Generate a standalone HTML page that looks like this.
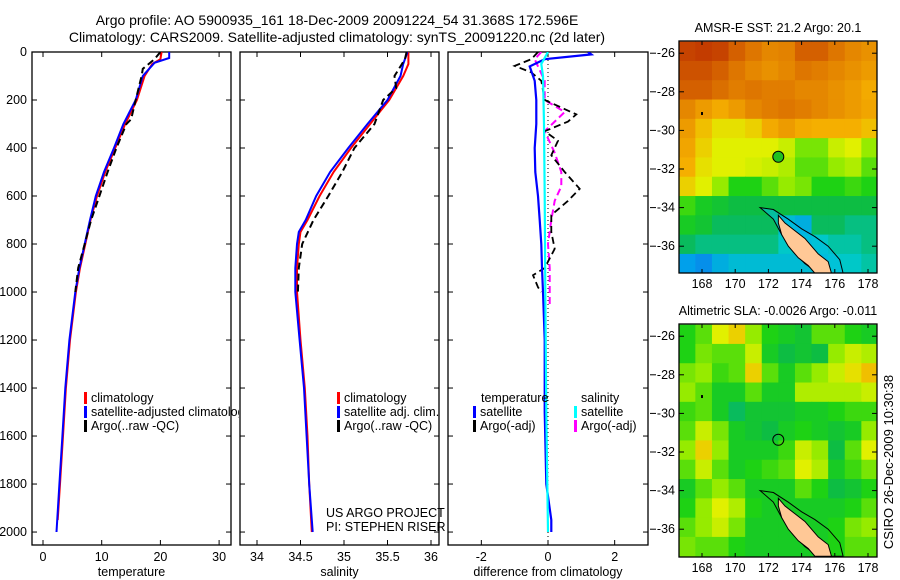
<!DOCTYPE html>
<html><head><meta charset="utf-8"><style>
body{margin:0;background:#fff}
svg{display:block;font-family:"Liberation Sans",sans-serif}
text{font-size:12.5px;fill:#000}
</style></head><body>
<svg id="c" width="900" height="580" viewBox="0 0 900 580" xmlns="http://www.w3.org/2000/svg">
<defs>
<clipPath id="cp1"><rect x="32" y="52" width="199" height="493"/></clipPath>
<clipPath id="cp1t"><rect x="0" y="0" width="239" height="580"/></clipPath>
<clipPath id="cp2"><rect x="240" y="52" width="199" height="493"/></clipPath>
<clipPath id="cp3"><rect x="448" y="52" width="200" height="493"/></clipPath>
<clipPath id="cpm1"><rect x="679" y="41" width="198" height="232"/></clipPath>
<clipPath id="cpm2"><rect x="679" y="324" width="198" height="233"/></clipPath>
</defs>
<text x="337" y="25" text-anchor="middle" style="font-size:14px">Argo profile: AO 5900935_161 18-Dec-2009 20091224_54 31.368S 172.596E</text>
<text x="337" y="42" text-anchor="middle" style="font-size:14px">Climatology: CARS2009. Satellite-adjusted climatology: synTS_20091220.nc (2d later)</text>
<g id="g"></g>
<text transform="translate(893,462) rotate(-90)" text-anchor="middle" style="font-size:13px">CSIRO 26-Dec-2009 10:30:38</text>
</svg>
<script>
// ---- profile data (depth in m) ----
const tClimDepth=[0,30,50,100,200,300,400,500,600,700,800,900,1000,1200,1400,1600,1800,1950];
const tClim=[20.2,20.0,18.6,17.3,16.0,14.0,12.3,10.6,9.2,8.1,7.2,6.3,5.6,4.6,3.9,3.4,2.9,2.5];
const tSatDepth=[0,25,45,100,200,300,400,500,600,700,800,900,1000,1200,1400,1600,1800,2000];
const tSat=[21.5,21.5,19.0,17.0,15.8,13.7,12.1,10.4,9.0,8.0,7.1,6.2,5.5,4.5,3.8,3.3,2.8,2.3];
const tArgoDepth=[0,30,70,100,200,280,300,400,500,600,700,800,900,1000];
const tArgo=[20.0,19.0,17.0,16.8,15.8,15.0,14.2,12.5,11.0,9.6,8.2,7.1,6.0,5.5];
const sClimDepth=[0,50,100,200,300,400,500,600,700,750,800,900,1000,1200,1400,1600,1800,2000];
const sClim=[35.74,35.74,35.68,35.52,35.3,35.08,34.88,34.72,34.58,34.5,34.48,34.46,34.46,34.5,34.55,34.58,34.6,34.63];
const sSatDepth=[0,50,100,200,300,400,500,600,700,750,800,900,1000,1200,1400,1600,1800,2000];
const sSat=[35.73,35.68,35.65,35.5,35.27,35.05,34.84,34.68,34.56,34.48,34.46,34.44,34.44,34.49,34.54,34.57,34.6,34.64];
const sArgoDepth=[0,30,100,150,200,300,400,500,600,700,800,900,1000];
const sArgo=[35.72,35.7,35.58,35.6,35.45,35.35,35.12,34.98,34.82,34.65,34.52,34.48,34.47];
const dTSatDepth=[0,10,30,60,120,200,300,400,500,600,700,800,900,1000,1200,1500,1800,1950,2000];
const dTSat=[1.2,1.3,-0.1,-0.55,-0.4,-0.35,-0.35,-0.4,-0.38,-0.3,-0.25,-0.2,-0.18,-0.15,-0.1,-0.1,-0.05,0.1,0.1];
const dSSatDepth=[0,50,100,300,600,1000,1500,2000];
const dSSat=[0.0,-0.2,-0.15,-0.12,-0.1,-0.08,-0.05,0.0];
const dTArgoDepth=[0,30,58,85,120,200,260,290,330,370,430,500,570,620,680,750,820,900,930,980,1000];
const dTArgo=[-0.3,-0.5,-1.0,-0.5,-0.2,-0.1,0.85,0.6,-0.1,0.3,0.1,0.5,0.95,0.6,0.1,0.1,0.2,-0.1,-0.45,-0.3,-0.2];
const dSArgoDepth=[0,30,60,120,200,250,290,330,420,500,560,620,700,800,900,1000,1050];
const dSArgo=[-0.2,-0.4,-0.3,-0.1,-0.1,0.5,0.2,-0.1,0.2,0.4,0.4,0.2,0.1,0.0,0.05,0.05,0.05];
const depthTicks=[0,200,400,600,800,1000,1200,1400,1600,1800,2000];
const tTicks=[0,10,20,30];
const sTicks=[34,34.5,35,35.5,36];
const dTicks=[-2,0,2];
// ---- map data (1-degree cells, rows north->south, cols west->east; colormap index 0..1) ----
const sstGrid=[
[0.92,0.93,0.92,0.88,0.85,0.82,0.83,0.88,0.88,0.85,0.82,0.80],
[0.90,0.90,0.88,0.85,0.82,0.80,0.82,0.85,0.84,0.82,0.80,0.78],
[0.88,0.88,0.86,0.84,0.85,0.84,0.84,0.82,0.82,0.80,0.78,0.75],
[0.82,0.78,0.75,0.78,0.82,0.84,0.85,0.84,0.82,0.80,0.78,0.76],
[0.78,0.72,0.68,0.68,0.70,0.75,0.78,0.75,0.74,0.74,0.74,0.72],
[0.76,0.70,0.66,0.66,0.66,0.66,0.64,0.58,0.58,0.64,0.66,0.60],
[0.74,0.68,0.66,0.66,0.65,0.64,0.62,0.56,0.56,0.60,0.62,0.56],
[0.70,0.66,0.60,0.52,0.52,0.56,0.60,0.58,0.52,0.52,0.54,0.52],
[0.54,0.50,0.48,0.46,0.46,0.46,0.46,0.46,0.46,0.46,0.46,0.46],
[0.50,0.48,0.44,0.44,0.44,0.44,0.36,0.34,0.44,0.44,0.42,0.42],
[0.44,0.42,0.42,0.42,0.42,0.42,0.38,0.36,0.38,0.40,0.40,0.42],
[0.32,0.30,0.34,0.36,0.36,0.36,0.36,0.36,0.36,0.38,0.38,0.40]];
const slaGrid=[
[0.52,0.56,0.66,0.70,0.60,0.52,0.50,0.48,0.56,0.56,0.52,0.50],
[0.52,0.58,0.56,0.56,0.64,0.50,0.46,0.48,0.46,0.60,0.64,0.62],
[0.58,0.60,0.54,0.56,0.70,0.56,0.50,0.56,0.60,0.64,0.68,0.72],
[0.60,0.56,0.50,0.50,0.56,0.50,0.50,0.62,0.62,0.62,0.62,0.64],
[0.54,0.56,0.50,0.44,0.48,0.48,0.48,0.50,0.50,0.52,0.54,0.54],
[0.56,0.64,0.58,0.50,0.48,0.46,0.50,0.52,0.50,0.48,0.50,0.60],
[0.60,0.70,0.60,0.50,0.50,0.50,0.54,0.64,0.60,0.46,0.56,0.66],
[0.56,0.64,0.56,0.50,0.52,0.54,0.56,0.66,0.62,0.50,0.54,0.58],
[0.50,0.56,0.60,0.56,0.50,0.50,0.50,0.56,0.52,0.46,0.48,0.52],
[0.52,0.60,0.66,0.62,0.52,0.50,0.50,0.50,0.50,0.50,0.52,0.56],
[0.56,0.60,0.64,0.58,0.50,0.50,0.50,0.50,0.50,0.52,0.58,0.60],
[0.58,0.56,0.56,0.52,0.50,0.50,0.50,0.50,0.50,0.52,0.56,0.56]];
const lonTicks=[168,170,172,174,176,178];
const latTicks=[-26,-28,-30,-32,-34,-36];
const landLon=[172.6,173.0,173.6,174.2,174.6,175.0,175.6,175.8,174.8,174.4,173.8,173.2,172.8,172.6];
const landLat=[-34.4,-34.8,-35.2,-35.6,-36.0,-36.4,-36.8,-37.4,-37.4,-37.0,-36.6,-36.0,-35.4,-34.8];
const shelfLon=[171.5,172.3,173.2,174.0,174.8,175.6,176.3,176.5,175.0,174.2,173.5,172.8,172.3];
const shelfLat=[-34.0,-34.1,-34.6,-35.1,-35.5,-36.0,-36.7,-37.4,-37.4,-36.9,-36.3,-35.4,-34.6];
const stationLon=172.596, stationLat=-31.368;

const NS='http://www.w3.org/2000/svg';
const G=document.getElementById('g');
function mk(tag,attrs,parent){const e=document.createElementNS(NS,tag);for(const k in attrs)e.setAttribute(k,attrs[k]);(parent||G).appendChild(e);return e;}
function lin(d0,d1,r0,r1){return v=>r0+(v-d0)*(r1-r0)/(d1-d0);}
const yD=lin(0,2054,52,545);

function panel(x0,x1,xs,ticks,label,name){
  const r=mk('rect',{x:x0,y:52,width:x1-x0,height:493,fill:'none',stroke:'#000','stroke-width':1.3});
  
  
  ticks.forEach(t=>{const x=xs(t);
    mk('line',{x1:x,x2:x,y1:545,y2:540,stroke:'#000'});mk('line',{x1:x,x2:x,y1:52,y2:57,stroke:'#000'});
    const tx=mk('text',{x:x,y:561,'text-anchor':'middle'});tx.textContent=String(t);
    
    });
  depthTicks.forEach(d=>{const y=yD(d);
    mk('line',{x1:x0,x2:x0+5,y1:y,y2:y,stroke:'#000'});mk('line',{x1:x1,x2:x1-5,y1:y,y2:y,stroke:'#000'});});
  const lb=mk('text',{x:(x0+x1)/2,y:576,'text-anchor':'middle'});lb.textContent=label;
  
  
}
function series(xs,vals,depths,color,w,dash,name,cp){
  const p=vals.map((v,i)=>xs(v).toFixed(1)+','+yD(depths[i]).toFixed(1)).join(' ');
  const a={points:p,fill:'none',stroke:color,'stroke-width':w,'clip-path':'url(#'+cp+')'};
  if(dash)a['stroke-dasharray']=dash;
  const e=mk('polyline',a);
  
  
}
function legend(x,y,color,label,name,clip){
  const b=mk('rect',{x:x,y:y-10,width:3,height:12,fill:color});
  
  
  const t=mk('text',{x:x+7,y:y});if(clip)t.setAttribute('clip-path','url(#'+clip+')');t.textContent=label;
  
  
}
depthTicks.forEach(d=>{const t=mk('text',{x:27,y:yD(d)+4,'text-anchor':'end'});t.textContent=String(d);
  
  });

const xT=lin(0,10,43,101.7);
panel(32,231,xT,tTicks,'temperature','temperature-panel');
series(xT,tClim,tClimDepth,'#ff0000',2,null,'temperature-climatology-line','cp1');
series(xT,tSat,tSatDepth,'#0000ff',2,null,'temperature-satellite-line','cp1');
series(xT,tArgo,tArgoDepth,'#000',2,'7,4','temperature-argo-line','cp1');
legend(84,402,'#ff0000','climatology','legend-climatology');
legend(84,416,'#0000ff','satellite-adjusted climatology','legend-satellite-adjusted','cp1t');
legend(84,430,'#000','Argo(..raw -QC)','legend-argo');

const xS=lin(34,35,257,344);
panel(240,439,xS,sTicks,'salinity','salinity-panel');
series(xS,sClim,sClimDepth,'#ff0000',2,null,'salinity-climatology-line','cp2');
series(xS,sSat,sSatDepth,'#0000ff',2,null,'salinity-satellite-line','cp2');
series(xS,sArgo,sArgoDepth,'#000',2,'7,4','salinity-argo-line','cp2');
legend(337,402,'#ff0000','climatology','legend-sal-climatology');
legend(337,416,'#0000ff','satellite adj. clim.','legend-sal-satellite');
legend(337,430,'#000','Argo(..raw -QC)','legend-sal-argo');
[['US ARGO PROJECT',517],['PI: STEPHEN RISER',531]].forEach(a=>{const t=mk('text',{x:326,y:a[1]});t.textContent=a[0];
  
  });

const xDf=lin(-3,3,448,648);
panel(448,648,xDf,dTicks,'difference from climatology','difference-panel');
mk('line',{x1:xDf(0),x2:xDf(0),y1:52,y2:545,stroke:'#000','stroke-dasharray':'1,3'});
series(xDf,dSArgo,dSArgoDepth,'#ff00ff',2,'7,4','diff-salinity-argo-line','cp3');
series(xDf,dTArgo,dTArgoDepth,'#000',1.8,'7,4','diff-temperature-argo-line','cp3');
series(xDf,dTSat,dTSatDepth,'#0000ff',2.2,null,'diff-temperature-satellite-line','cp3');
series(xDf,dSSat,dSSatDepth,'#00ffff',2.2,null,'diff-salinity-satellite-line','cp3');
[['temperature',481],['salinity',581]].forEach(a=>{const t=mk('text',{x:a[1],y:402});t.textContent=a[0];
  
  });
legend(473,416,'#0000ff','satellite','legend-diff-temp-satellite');
legend(473,430,'#000','Argo(-adj)','legend-diff-temp-argo');
legend(574,416,'#00ffff','satellite','legend-diff-sal-satellite');
legend(574,430,'#ff00ff','Argo(-adj)','legend-diff-sal-argo');

const stops=[[0.25,[20,100,230]],[0.32,[0,160,235]],[0.38,[0,200,200]],[0.45,[10,185,75]],[0.52,[30,210,20]],[0.6,[150,235,0]],[0.66,[225,240,0]],[0.74,[245,175,0]],[0.84,[225,125,0]],[0.93,[195,60,0]],[1,[170,30,0]]];
function cmap(v){if(v<=stops[0][0])return 'rgb('+stops[0][1]+')';
  for(let i=1;i<stops.length;i++){if(v<=stops[i][0]){const a=stops[i-1],b=stops[i],f=(v-a[0])/(b[0]-a[0]);
    return 'rgb('+a[1].map((c,k)=>Math.round(c+(b[1][k]-c)*f)).join(',')+')';}}
  return 'rgb('+stops[stops.length-1][1]+')';}
function map(y0,y1,grid,title,name,cp,filled){
  const xL=lin(168,178,702,868), yL=lin(-26,-36,y0+12.2,y0+205.2);
  const g=mk('g',{'clip-path':'url(#'+cp+')'});
  
  
  grid.forEach((row,r)=>row.forEach((v,c)=>{
    const lo=166.6+c, la=-25.4-r;
    const cell=mk('rect',{x:xL(lo),y:yL(la),width:xL(lo+1)-xL(lo)+0.6,height:yL(la-1)-yL(la)+0.6,fill:cmap(v)},g);
    
    }));
  const shelf=mk('polygon',{points:shelfLon.map((lo,i)=>xL(lo)+','+yL(shelfLat[i])).join(' '),fill:filled?'rgba(0,190,230,0.55)':'none',stroke:'#000','stroke-width':1},g);
  
  
  const land=mk('polygon',{points:landLon.map((lo,i)=>xL(lo)+','+yL(landLat[i])).join(' '),fill:'#ffc896',stroke:'#000','stroke-width':1},g);
  
  
  mk('rect',{x:xL(168)-1,y:yL(-29.1)-1,width:2,height:3,fill:'#000'},g);
  const st=mk('circle',{cx:xL(stationLon),cy:yL(stationLat),r:5.5,fill:filled?'#20c020':'none',stroke:'#000','stroke-width':1});
  
  
  const fr=mk('rect',{x:679,y:y0,width:198,height:y1-y0,fill:'none',stroke:'#000','stroke-width':1.3});
  
  
  lonTicks.forEach(l=>{const x=xL(l);mk('line',{x1:x,x2:x,y1:y0,y2:y0+4,stroke:'#000'});mk('line',{x1:x,x2:x,y1:y1,y2:y1-4,stroke:'#000'});
    const t=mk('text',{x:x,y:y1+15,'text-anchor':'middle'});t.textContent=String(l);
    
    });
  latTicks.forEach(l=>{const y=yL(l);mk('line',{x1:679,x2:684,y1:y,y2:y,stroke:'#000'});mk('line',{x1:877,x2:872,y1:y,y2:y,stroke:'#000'});
    mk('line',{x1:650,x2:656,y1:y,y2:y,stroke:'#000'});
    const t=mk('text',{x:675,y:y+4,'text-anchor':'end'});t.textContent=String(l);
    
    });
  const tt=mk('text',{x:778,y:y0-9,'text-anchor':'middle'});tt.textContent=title;
  
  
}
map(41,273,sstGrid,'AMSR-E SST: 21.2 Argo: 20.1','sst-map','cpm1',true);
map(324,557,slaGrid,'Altimetric SLA: -0.0026 Argo: -0.011','sla-map','cpm2',false);
</script>
</body></html>
